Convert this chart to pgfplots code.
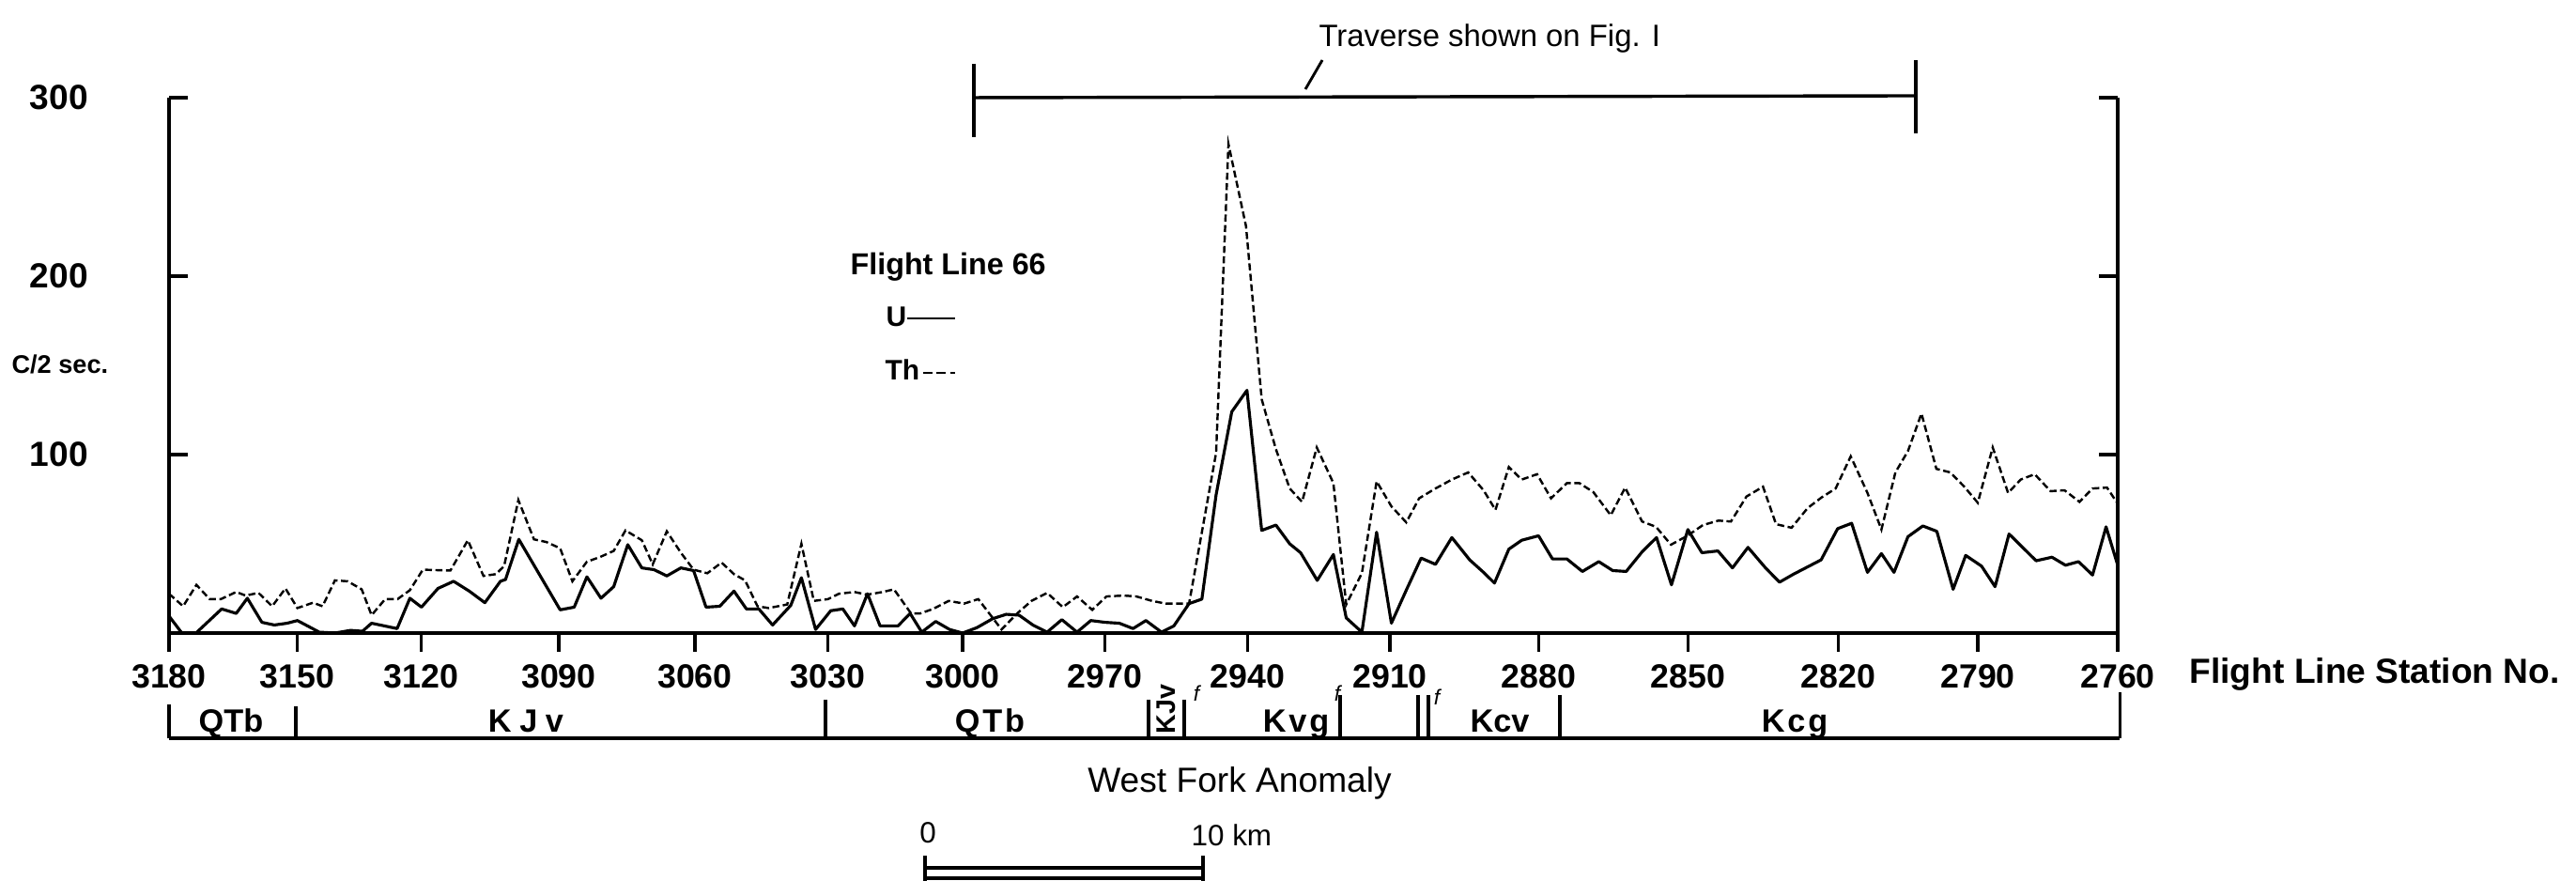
\documentclass[border=0pt]{standalone}
\usepackage{fontspec}
\setmainfont{Liberation Sans}
\usepackage{pgfplots}
\usepackage{pgfplotstable}
\pgfplotsset{compat=1.18}

% Th (dashed)
\pgfplotstableread{
st val
3180 22
3176.7 15
3173.6 27
3170.5 19
3167.9 19
3164.3 23
3162.1 21
3159.1 22.5
3155.9 15
3152.8 25
3150 14
3146.2 17
3143.9 15
3140.9 29.5
3137.8 29
3134.4 24.5
3132 10
3128.7 19
3125.7 19
3122.7 24
3119.6 35.5
3113.6 35
3109.8 52
3106.4 32
3103.7 33
3101.9 37.5
3098.8 74.5
3095.4 52.5
3092.7 51
3089.7 47.5
3087 29
3083.8 40
3081 42.5
3077.9 46
3075.3 57.5
3071.7 52
3069.3 38.5
3066.2 57
3063.1 45
3060.3 35.5
3057.2 33.5
3054 39.5
3051.2 33
3048.7 29.5
3045.9 15
3043.4 14
3039.2 16
3036 50
3033.2 18
3030 19
3027.6 22
3024.1 23
3021.3 21.5
3017.8 23
3015.3 24.5
3011.5 11
3009.4 11
3006.6 13.5
3003.1 18
2999.7 16.5
2996.7 19
2994.1 10
2991.8 2
2988.5 11
2985.5 18
2982.2 22.5
2978.9 14.5
2975.9 20.5
2972.7 13
2969.7 20.5
2966.1 21
2963.4 20.5
2960.1 18
2957.2 16.5
2953.8 16.5
2952.3 16.5
2946.6 101
2944 274
2940.3 228
2937 131
2934 103
2931.1 81
2928.5 73.5
2925.4 104
2921.9 84
2919.2 16
2915.9 33.5
2912.8 85
2909.7 71
2906.7 62
2904.1 75.5
2900.8 81
2897.5 86
2894.2 90
2891.1 80
2888.7 69
2886 93
2883.4 86
2880.3 89
2877.5 75.5
2874.3 84
2871.8 84
2869 79
2865.5 66
2862.6 81.5
2859.2 62.5
2856.4 59.5
2853.4 49.5
2850.1 54.5
2847 60.5
2843.9 63
2841.4 62.5
2838.3 76.5
2835 82
2832.4 61
2829.3 59
2826.1 70
2823.3 76
2820.5 81
2817.3 99
2813.7 78.5
2810.7 58
2807.7 90
2805 102
2802.1 123
2798.9 92
2795.9 90
2792.9 82
2790 73
2786.8 104
2783.5 78.5
2780.8 86
2777.8 89
2774.4 79.5
2771.4 80
2768.2 73.5
2765.4 81
2762.3 81.5
2760 72.5
}\thdata

% U (solid)
\pgfplotstableread{
st val
3180 9.5
3177 0
3173.7 0
3167.7 13.5
3164.3 11
3161.7 19.5
3158.3 6
3155.4 4.5
3152.4 5.5
3150 7
3144.7 0.5
3140.9 0
3137.1 1.5
3134.2 1
3132 5.5
3125.8 2.5
3122.7 19.5
3119.9 14.5
3116.3 25
3112.9 29
3109.5 23.5
3106.1 17
3102.7 29
3101.6 30
3098.7 52.5
3089.7 13
3086.6 14.5
3083.8 31.5
3080.7 19.5
3077.9 26
3074.8 49.5
3071.7 36.5
3069 35.5
3066.2 32
3063.1 36.5
3060.3 35
3057.5 14.5
3054.4 15
3051.2 23.5
3048.4 13.5
3045.6 13.5
3042.5 4.5
3038.4 15.5
3036 31
3032.8 2
3029.4 12.5
3026.7 13.5
3024.1 4
3021.2 22
3018.4 4
3014.4 4
3011.7 11
3009.1 0.5
3006 6.5
3002.9 2
3000 0
2997 3
2993.7 8
2990.8 10.5
2988.1 10
2985.2 4.5
2982.2 0.5
2979.1 7.5
2975.9 0.5
2973 7
2970 6
2967 5.5
2964.1 2.5
2961.4 7
2958.1 0.5
2955.5 4
2952.3 16.5
2949.6 19
2946.6 77.5
2943.3 124
2940.1 136
2937 57.5
2934 60.5
2931.1 50
2928.8 45
2925.3 29.5
2921.9 44
2919.2 8.5
2915.9 0.5
2912.8 56.5
2909.7 5.5
2906.7 24
2903.7 42
2900.8 38.5
2897.5 53.5
2893.9 41
2891.1 34
2888.9 28
2886 47
2883.4 52
2880 54.5
2877.2 41.5
2874.3 41.5
2871.2 34.5
2867.9 40
2865.1 35
2862.4 34.5
2859.2 45.5
2856.3 53.5
2853.3 27
2850 58
2847.2 45
2844 46
2841.1 36.5
2838 48
2834.5 36.5
2831.7 28.5
2828.9 33
2825.8 37.5
2823.4 41
2820.1 58.5
2817.1 61.5
2813.7 34
2810.7 44.5
2808 34
2805 54
2801.8 60
2798.8 57
2795.3 24.5
2792.6 43.5
2789.2 37.5
2786.3 26
2783.3 55.5
2780.2 47.5
2777.5 40.5
2774.1 42.5
2771.2 38
2768.4 40
2765.4 32.5
2762.5 59.5
2760 38
}\udata

\begin{document}
\begin{tikzpicture}
\useasboundingbox (-63pt,-92.4pt) rectangle (897.05pt,235.9pt);
\begin{axis}[
  scale only axis, width=726.25pt, height=199.5pt,
  x coord trafo/.code={\pgfmathparse{#1>=3150?180+(3180-#1)*4.5567:(#1>=3120?316.7+(3150-#1)*4.3867:(#1>=3090?448.3+(3120-#1)*4.89:(#1>=3060?595+(3090-#1)*4.8333:(#1>=3030?740+(3060-#1)*4.7233:(#1>=3000?881.7+(3030-#1)*4.7767:(#1>=2970?1025+(3000-#1)*5.0567:(#1>=2940?1176.7+(2970-#1)*5.0533:(#1>=2910?1328.3+(2940-#1)*5.0567:(#1>=2880?1480+(2910-#1)*5.2767:(#1>=2850?1638.3+(2880-#1)*5.3:(#1>=2820?1797.3+(2850-#1)*5.3333:(#1>=2790?1957.3+(2820-#1)*4.9567:2106+(2790-#1)*4.9667))))))))))))}},
  enlargelimits=false,
  ymin=0, ymax=300,
  clip=false,
  axis x line*=bottom, axis y line*=box,
  axis line style={-, line width=1.3pt},
  xtick={3180,3150,3120,3090,3060,3030,3000,2970,2940,2910,2880,2850,2820,2790,2760},
  xticklabels={3180,3150,3120,3090,3060,3030,3000,2970,2940,2910,2880,2850,2820,2790,2760},
  ytick={100,200,300}, yticklabels={100,200,300},
  ytick pos=both, yticklabel pos=left,
  xtick align=outside, ytick align=inside,
  major tick length=7pt,
  every tick/.style={black, line width=1.2pt},
  xticklabel style={font=\bfseries\fontsize{12.5}{14}\selectfont, anchor=north, inner sep=0pt},
  xticklabel shift=4.5pt,
  yticklabel style={font=\bfseries\fontsize{13}{15}\selectfont, anchor=east, inner sep=0pt},
  yticklabel shift=30pt,
]
\addplot[black, line width=0.85pt, dash pattern=on 2.6pt off 1.3pt] table[x=st, y=val] {\thdata};
\addplot[black, line width=1.1pt, line join=round] table[x=st, y=val] {\udata};
\end{axis}

\begin{scope}[x=0.35pt, y=-0.35pt, shift={(-180,-674)}]
  % traverse bar
  \draw[line width=1.2pt] (1037,104) -- (2040,102);
  \draw[line width=1.2pt] (1037,68) -- (1037,146);
  \draw[line width=1.2pt] (2040,64) -- (2040,142);
  \draw[line width=1.0pt] (1390,95) -- (1408,64);
  \node[anchor=base west, inner sep=0pt, font=\fontsize{11.5}{13}\selectfont] at (1404,50) {Traverse shown on Fig. I};
  % legend
  \node[anchor=base west, inner sep=0pt, font=\bfseries\fontsize{11.3}{13}\selectfont] at (905,293) {Flight Line 66};
  \node[anchor=base west, inner sep=0pt, font=\bfseries\fontsize{10.5}{12}\selectfont] at (943,348) {U};
  \draw[line width=1.0pt] (966,339) -- (1017,339);
  \node[anchor=base west, inner sep=0pt, font=\bfseries\fontsize{10.5}{12}\selectfont] at (942,405) {Th};
  \draw[line width=0.9pt, dash pattern=on 3.5pt off 1.5pt] (983,397) -- (1017,397);
  % y label
  \node[anchor=base west, inner sep=0pt, font=\bfseries\fontsize{9.5}{11}\selectfont] at (12,398) {C/2 sec.};
  % x label
  \node[anchor=base west, inner sep=0pt, font=\bfseries\fontsize{13}{15}\selectfont] at (2331,728) {Flight Line Station No.};
  % geology bar
  \draw[line width=1.3pt] (180,786) -- (2257,786);
  \foreach \xx/\yy in {180/750, 315/752, 879/745, 1223/745, 1261/745, 1427/740, 1510/740, 1521/740, 1661/740, 2257/737}
    \draw[line width=1.1pt] (\xx,\yy) -- (\xx,786);
  \begin{scope}[every node/.style={anchor=base, inner sep=0pt, font=\bfseries\fontsize{12}{14}\selectfont}]
    \node at (246,780) {QTb};
    \node at (560,780) {K\hspace{3pt}J\hspace{3pt}v};
    \node at (1054,780) {Q\hspace{1pt}T\hspace{1pt}b};
    \node at (1380,780) {K\hspace{1pt}v\hspace{1pt}g};
    \node at (1597,780) {Kcv};
    \node at (1911,780) {K\hspace{1pt}c\hspace{1pt}g};
  \end{scope}
  \node[rotate=90, inner sep=0pt, font=\bfseries\fontsize{10}{12}\selectfont] at (1242,755) {KJv};
  \foreach \xx/\yy in {1274/738,1424/738,1530/742}
    \node[inner sep=0pt, font=\itshape\fontsize{8}{9}\selectfont] at (\xx,\yy) {f};
  % West Fork Anomaly
  \node[anchor=base, inner sep=0pt, font=\fontsize{13}{15}\selectfont] at (1320,843) {West Fork Anomaly};
  % scale bar
  \node[anchor=base, inner sep=0pt, font=\fontsize{11}{13}\selectfont] at (988,897) {0};
  \node[anchor=base west, inner sep=0pt, font=\fontsize{11}{13}\selectfont] at (1268,900) {10 km};
  \draw[line width=1.1pt] (985,924) -- (1281,924);
  \draw[line width=1.1pt] (985,935) -- (1281,935);
  \draw[line width=1.1pt] (985,911) -- (985,938);
  \draw[line width=1.1pt] (1281,911) -- (1281,938);
\end{scope}
\end{tikzpicture}
\end{document}
